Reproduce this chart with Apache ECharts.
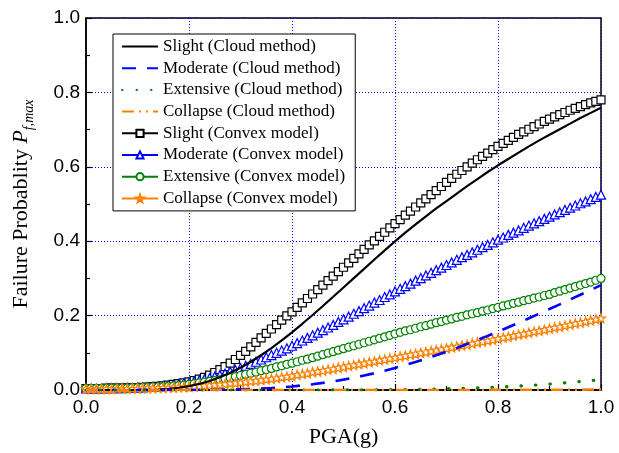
<!DOCTYPE html>
<html>
<head>
<meta charset="utf-8">
<script src="https://cdn.jsdelivr.net/npm/echarts@6/dist/echarts.min.js"></script>
<style>
  html, body { margin: 0; padding: 0; background: #fff; }
  #chart { width: 619px; height: 453px; }
</style>
</head>
<body>
<div id="chart"></div>
<script>
// PGA sample points (g)
const pgaFine = [0.00,0.01,0.02,0.03,0.04,0.05,0.06,0.07,0.08,0.09,0.10,
  0.11,0.12,0.13,0.14,0.15,0.16,0.17,0.18,0.19,0.20,
  0.21,0.22,0.23,0.24,0.25,0.26,0.27,0.28,0.29,0.30,
  0.31,0.32,0.33,0.34,0.35,0.36,0.37,0.38,0.39,0.40,
  0.41,0.42,0.43,0.44,0.45,0.46,0.47,0.48,0.49,0.50,
  0.51,0.52,0.53,0.54,0.55,0.56,0.57,0.58,0.59,0.60,
  0.61,0.62,0.63,0.64,0.65,0.66,0.67,0.68,0.69,0.70,
  0.71,0.72,0.73,0.74,0.75,0.76,0.77,0.78,0.79,0.80,
  0.81,0.82,0.83,0.84,0.85,0.86,0.87,0.88,0.89,0.90,
  0.91,0.92,0.93,0.94,0.95,0.96,0.97,0.98,0.99,1.00];

const pgaCoarse = [0.00,0.02,0.04,0.06,0.08,0.10,0.12,0.14,0.16,0.18,0.20,
  0.22,0.24,0.26,0.28,0.30,0.32,0.34,0.36,0.38,0.40,
  0.42,0.44,0.46,0.48,0.50,0.52,0.54,0.56,0.58,0.60,
  0.62,0.64,0.66,0.68,0.70,0.72,0.74,0.76,0.78,0.80,
  0.82,0.84,0.86,0.88,0.90,0.92,0.94,0.96,0.98,1.00];

// Cloud method fragility curves (on pgaCoarse)
const slightCloud = [0,0,0,0,0,0.0001,0.0005,0.0014,0.0031,0.006,0.0103,
  0.0163,0.0242,0.0341,0.0461,0.06,0.0759,0.0934,0.1126,0.1333,0.1551,
  0.178,0.2016,0.2259,0.2506,0.2756,0.3007,0.3257,0.3507,0.3754,0.3997,
  0.423,0.445,0.467,0.488,0.508,0.528,0.548,0.567,0.586,0.604,
  0.621,0.638,0.655,0.671,0.686,0.701,0.716,0.731,0.745,0.759];

const moderateCloud = [0,0,0,0,0,0,0,0,0,0,0.0001,
  0.0002,0.0004,0.0008,0.0012,0.0019,0.0028,0.004,0.0055,0.0073,0.0096,
  0.0123,0.0154,0.0191,0.0232,0.0279,0.0331,0.0389,0.0451,0.0519,0.0592,
  0.0671,0.0754,0.0842,0.0934,0.103,0.1131,0.1236,0.1344,0.1455,0.157,
  0.1686,0.1806,0.1928,0.2052,0.2177,0.2303,0.2431,0.256,0.269,0.2819];

const extensiveCloud = [0,0,0,0,0,0,0,0,0,0,0,
  0,0,0,0,0,0,0,0,0,0,
  0,0,0,0.0002,0.0003,0.0004,0.0005,0.0007,0.0009,0.0011,
  0.0014,0.0018,0.0023,0.0028,0.0034,0.0041,0.0049,0.0058,0.0068,0.008,
  0.0093,0.0107,0.0123,0.014,0.0159,0.018,0.0202,0.0226,0.0252,0.028];

const collapseCloud = [0,0,0,0,0,0,0,0,0,0,0,
  0,0,0,0,0,0,0,0,0,0,
  0,0,0,0,0,0,0,0,0,0,
  0,0,0,0,0,0.0001,0.0001,0.0002,0.0002,0.0003,
  0.0003,0.0004,0.0005,0.0006,0.0007,0.0008,0.0009,0.0011,0.0012,0.0014];

// Convex model fragility curves (on pgaFine)
const slightConvex = [0.004,0.004,0.004,0.004,0.005,0.005,0.005,0.005,0.006,0.006,0.006,
  0.007,0.008,0.009,0.010,0.011,0.013,0.015,0.017,0.019,0.022,
  0.025,0.029,0.034,0.040,0.047,0.055,0.063,0.072,0.082,0.093,
  0.104,0.116,0.128,0.140,0.152,0.164,0.176,0.188,0.199,0.210,
  0.222,0.234,0.246,0.258,0.270,0.282,0.294,0.306,0.318,0.330,
  0.342,0.354,0.366,0.378,0.390,0.401,0.413,0.424,0.436,0.447,
  0.458,0.470,0.481,0.492,0.503,0.514,0.525,0.536,0.547,0.558,
  0.569,0.580,0.590,0.600,0.610,0.619,0.628,0.637,0.646,0.655,
  0.663,0.671,0.679,0.687,0.694,0.701,0.708,0.715,0.722,0.728,
  0.734,0.740,0.746,0.752,0.757,0.762,0.767,0.772,0.776,0.780];

const moderateConvex = [0.004,0.004,0.004,0.004,0.005,0.005,0.005,0.005,0.006,0.006,0.007,
  0.007,0.008,0.009,0.010,0.011,0.012,0.014,0.016,0.018,0.020,
  0.023,0.026,0.029,0.032,0.036,0.040,0.044,0.049,0.054,0.059,
  0.065,0.070,0.076,0.082,0.088,0.094,0.100,0.106,0.112,0.119,
  0.126,0.133,0.140,0.147,0.154,0.161,0.168,0.175,0.183,0.190,
  0.197,0.205,0.212,0.220,0.227,0.235,0.242,0.250,0.257,0.265,
  0.272,0.279,0.286,0.294,0.301,0.308,0.315,0.322,0.329,0.336,
  0.343,0.350,0.357,0.363,0.370,0.377,0.384,0.390,0.397,0.404,
  0.410,0.417,0.423,0.429,0.436,0.442,0.448,0.454,0.460,0.466,
  0.472,0.478,0.484,0.490,0.496,0.502,0.507,0.513,0.519,0.525];

const extensiveConvex = [0.004,0.004,0.004,0.004,0.004,0.005,0.005,0.005,0.005,0.006,0.006,
  0.007,0.007,0.008,0.008,0.009,0.010,0.011,0.012,0.013,0.015,
  0.017,0.019,0.021,0.023,0.025,0.027,0.030,0.033,0.036,0.039,
  0.042,0.045,0.048,0.052,0.055,0.058,0.062,0.065,0.069,0.072,
  0.076,0.080,0.083,0.087,0.091,0.095,0.099,0.103,0.107,0.111,
  0.115,0.119,0.123,0.127,0.131,0.135,0.139,0.143,0.147,0.151,
  0.155,0.159,0.162,0.166,0.170,0.173,0.177,0.181,0.184,0.188,
  0.191,0.195,0.198,0.202,0.205,0.208,0.212,0.215,0.219,0.222,
  0.226,0.229,0.233,0.236,0.240,0.243,0.247,0.250,0.254,0.257,
  0.262,0.266,0.270,0.274,0.278,0.282,0.286,0.290,0.295,0.300];

const collapseConvex = [0.003,0.003,0.003,0.003,0.003,0.003,0.004,0.004,0.004,0.004,0.004,
  0.005,0.005,0.005,0.006,0.006,0.007,0.007,0.008,0.008,0.009,
  0.010,0.011,0.012,0.013,0.014,0.015,0.016,0.018,0.019,0.021,
  0.022,0.024,0.025,0.027,0.029,0.030,0.032,0.034,0.036,0.038,
  0.041,0.043,0.045,0.048,0.050,0.052,0.055,0.057,0.060,0.062,
  0.065,0.067,0.070,0.072,0.075,0.077,0.080,0.082,0.085,0.087,
  0.090,0.092,0.095,0.097,0.100,0.102,0.105,0.107,0.110,0.112,
  0.115,0.117,0.120,0.122,0.125,0.128,0.130,0.133,0.135,0.138,
  0.141,0.143,0.146,0.149,0.151,0.154,0.157,0.159,0.162,0.165,
  0.168,0.170,0.173,0.176,0.179,0.181,0.184,0.187,0.190,0.193];

const seriesNames = [
  'Slight (Cloud method)', 'Moderate (Cloud method)', 'Extensive (Cloud method)', 'Collapse (Cloud method)',
  'Slight (Convex model)', 'Moderate (Convex model)', 'Extensive (Convex model)', 'Collapse (Convex model)'
];

const BLACK = '#000000', BLUE = '#0000FF', GREEN = '#008000', ORANGE = '#FF8000';
const SERIF = '"Liberation Serif", "Times New Roman", serif';
const SANS = '"Liberation Sans", Arial, sans-serif';
const STAR = 'path://M0,-10L2.35,-3.24L9.51,-3.09L3.8,1.24L5.88,8.09L0,4L-5.88,8.09L-3.8,1.24L-9.51,-3.09L-2.35,-3.24Z';

function pairs(xs, ys) { return xs.map((x, i) => [x, ys[i]]); }

function cloud(name, ys, color, width, type, cap) {
  return {
    name, type: 'line', data: pairs(pgaCoarse, ys), showSymbol: false, symbol: 'none',
    lineStyle: { color, width, type, cap: cap || 'butt' },
    itemStyle: { color }, z: 3, silent: true
  };
}

function convex(name, ys, color, symbol, size) {
  return {
    name, type: 'line', data: pairs(pgaFine, ys), symbol, symbolSize: size, showAllSymbol: true,
    lineStyle: { color, width: 1.8 },
    itemStyle: { color: '#fff', borderColor: color, borderWidth: 1.2 }, z: 2, silent: true
  };
}

// Cloud-method entries show only their line style in the legend
const legendData = seriesNames.map((name, i) =>
  i < 4 ? { name, itemStyle: { opacity: 0 } } : { name });

const chart = echarts.init(document.getElementById('chart'), null, { renderer: 'canvas' });

const axisCommon = {
  type: 'value', min: 0, max: 1, interval: 0.2,
  nameLocation: 'middle',
  axisLine: { show: true, onZero: false, lineStyle: { color: '#000', width: 1.5 } },
  axisTick: { show: true, inside: true, length: 6, lineStyle: { color: '#000', width: 1.2 } },
  minorTick: { show: true, splitNumber: 2, length: 4, lineStyle: { color: '#000', width: 1.2 } },
  axisLabel: { formatter: v => v.toFixed(1), fontFamily: SANS, fontSize: 19, color: '#000' },
  splitLine: { show: true, lineStyle: { color: BLUE, type: [1, 2], width: 1 } }
};

chart.setOption({
  animation: false,
  backgroundColor: '#fff',
  grid: { left: 86, right: 18, top: 18, bottom: 63, show: true, borderColor: '#000', borderWidth: 1.5, backgroundColor: 'transparent' },
  xAxis: Object.assign({}, axisCommon, {
    name: 'PGA(g)', nameGap: 36,
    nameTextStyle: { fontFamily: SERIF, fontSize: 22, color: '#000' },
    axisLabel: Object.assign({}, axisCommon.axisLabel, { margin: 8 })
  }),
  yAxis: Object.assign({}, axisCommon, {
    name: '{t|Failure Probablity }{p|P}{s|f,max}', nameGap: 50,
    nameTextStyle: {
      color: '#000',
      rich: {
        t: { fontFamily: SERIF, fontSize: 22, color: '#000' },
        p: { fontFamily: SERIF, fontSize: 22, fontStyle: 'italic', color: '#000' },
        s: { fontFamily: SERIF, fontSize: 14, fontStyle: 'italic', color: '#000', padding: [16, 0, 0, 0] }
      }
    },
    axisLabel: Object.assign({}, axisCommon.axisLabel, { margin: 6 })
  }),
  legend: {
    orient: 'vertical', left: 113, top: 34,
    itemWidth: 36, itemHeight: 9, itemGap: 4.7,
    padding: [4, 10, 4, 8],
    borderColor: '#000', borderWidth: 1, backgroundColor: '#fff',
    textStyle: { fontFamily: SERIF, fontSize: 17, color: '#000' },
    data: legendData
  },
  series: [
    cloud(seriesNames[0], slightCloud, BLACK, 2.2, 'solid'),
    cloud(seriesNames[1], moderateCloud, BLUE, 2.6, [14, 11]),
    cloud(seriesNames[2], extensiveCloud, GREEN, 3.2, [0.5, 14], 'round'),
    cloud(seriesNames[3], collapseCloud, ORANGE, 2.6, [12, 5, 2, 5, 2, 5]),
    convex(seriesNames[4], slightConvex, BLACK, 'rect', 8),
    convex(seriesNames[5], moderateConvex, BLUE, 'triangle', 9),
    convex(seriesNames[6], extensiveConvex, GREEN, 'circle', 8),
    convex(seriesNames[7], collapseConvex, ORANGE, STAR, 9)
  ]
});
</script>
</body>
</html>
